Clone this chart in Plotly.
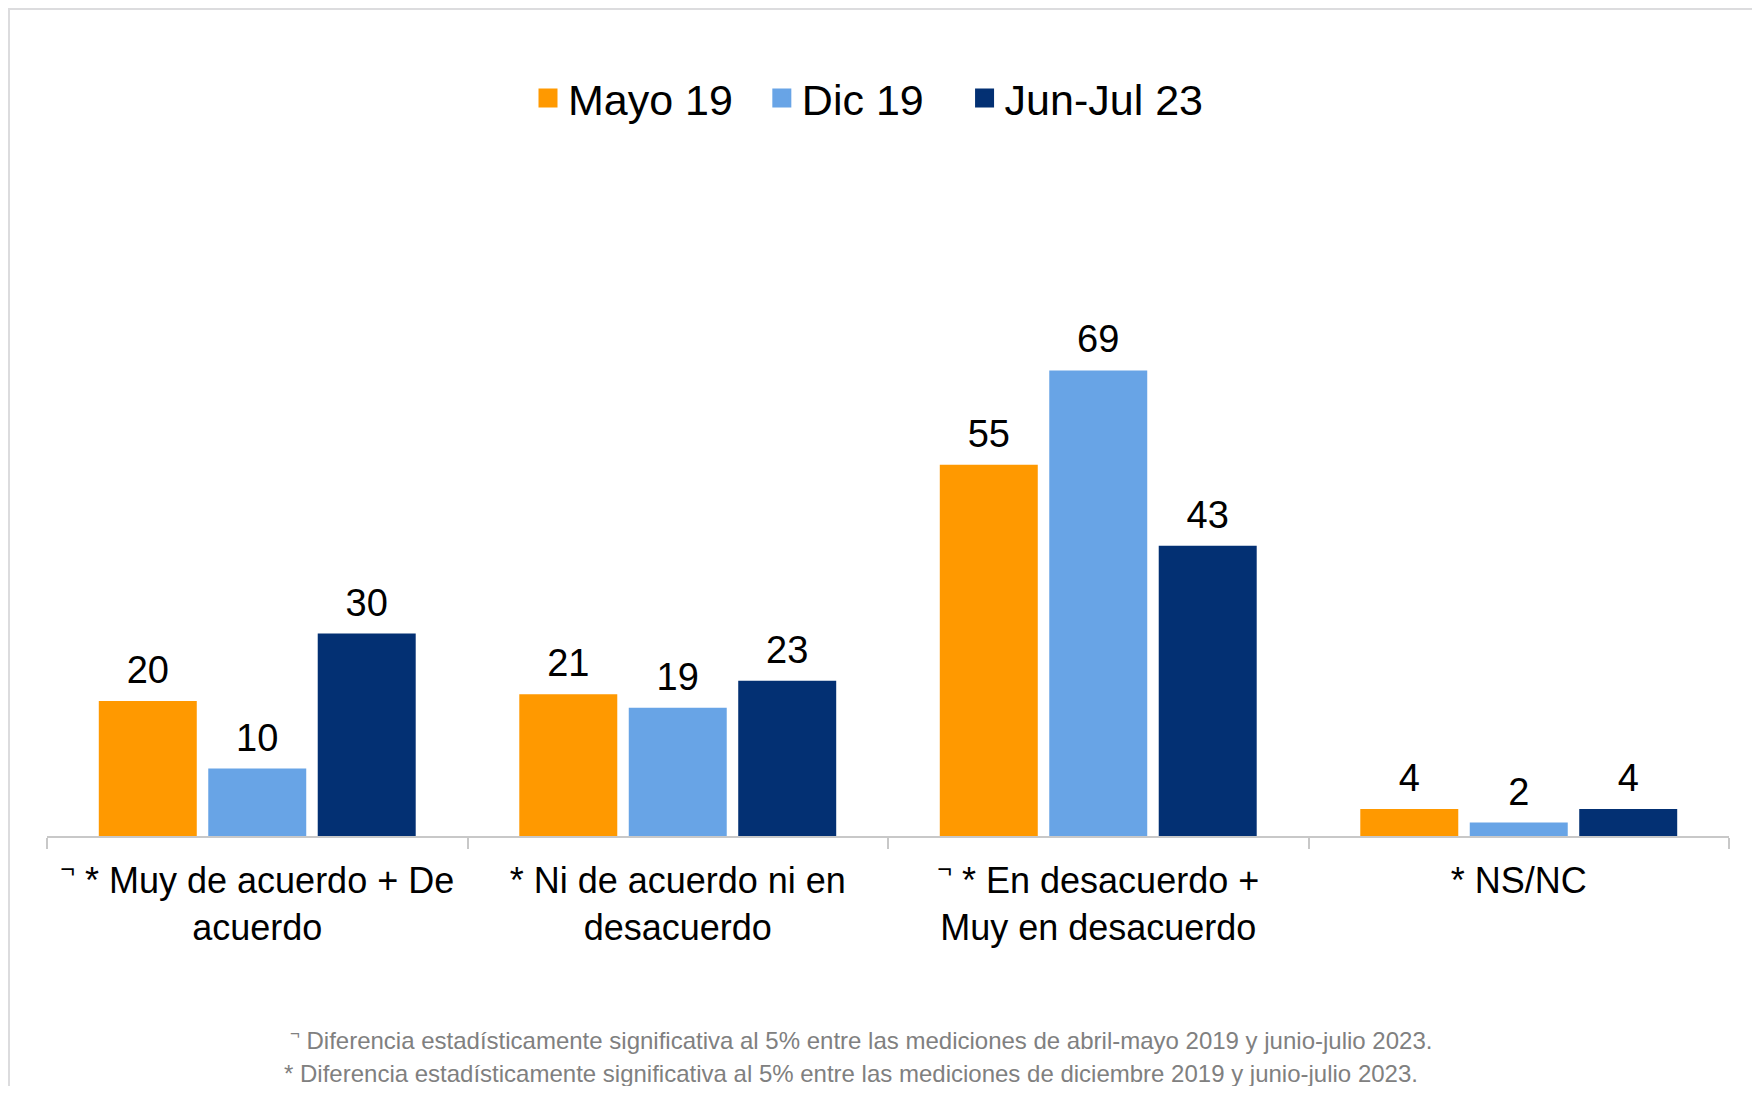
import plotly.graph_objects as go

categories = [
    "<sup>¬</sup> * Muy de acuerdo + De<br>acuerdo",
    "* Ni de acuerdo ni en<br>desacuerdo",
    "<sup>¬</sup> * En desacuerdo +<br>Muy en desacuerdo",
    "* NS/NC",
]
series_names = ["Mayo 19", "Dic 19", "Jun-Jul 23"]
legend_pad = ["\u00a0\u00a0", "\u00a0\u00a0\u00a0", ""]
mayo19 = [20, 21, 55, 4]
dic19 = [10, 19, 69, 2]
junjul23 = [30, 23, 43, 4]
colors = ["#FF9900", "#68A4E6", "#033073"]
footnotes = [
    "<sup>¬</sup> Diferencia estadísticamente significativa al 5% entre las mediciones de abril-mayo 2019 y junio-julio 2023.",
    "* Diferencia estadísticamente significativa al 5% entre las mediciones de diciembre 2019 y junio-julio 2023.",
]

OFF = 8                      # page body margin
W, H = 1760 - 2 * OFF, 1094 - 2 * OFF
# plot area in page pixels
PX_L, PX_R, PX_T, PX_B = 47, 1729, 100, 836
L, R = PX_L - OFF, W - (PX_R - OFF)
T, B = PX_T - OFF, H - (PX_B - OFF)
PX_PER_UNIT = 6.748
YMAX = (PX_B - PX_T) / PX_PER_UNIT
FONT = "Liberation Sans, Arial, sans-serif"

pw = PX_R - PX_L
ph = PX_B - PX_T
def px_x(px):
    return (px - PX_L) / pw
def px_y(py):
    return (PX_B - py) / ph

fig = go.Figure()
all_vals = [mayo19, dic19, junjul23]
for name, vals, col in zip(series_names, all_vals, colors):
    fig.add_trace(go.Bar(x=categories, y=vals, name=name, marker_color=col,
                         marker_line_width=0, showlegend=False, hoverinfo="skip"))
for name, vals, col in zip(series_names, all_vals, colors):
    fig.add_trace(go.Scatter(x=categories, y=vals, mode="markers+text",
                             text=[str(v) for v in vals], textposition="top center",
                             textfont=dict(family=FONT, size=38, color="#000000"),
                             marker=dict(size=12, color="rgba(0,0,0,0)"),
                             cliponaxis=False, showlegend=False, hoverinfo="skip"))
for name, pad, col in zip(series_names, legend_pad, colors):
    fig.add_trace(go.Scatter(x=[None], y=[None], mode="markers", name=name + pad,
                             marker=dict(symbol="square", size=16, color=col,
                                         line=dict(color=col, width=3)),
                             xaxis="x2", yaxis="y2"))

# panel border (top and left edges)
fig.add_shape(type="line", xref="paper", yref="paper",
              x0=px_x(OFF), x1=px_x(1760), y0=px_y(OFF + 1), y1=px_y(OFF + 1),
              line=dict(color="#DCDCDE", width=2), layer="below")
fig.add_shape(type="line", xref="paper", yref="paper",
              x0=px_x(OFF + 1), x1=px_x(OFF + 1), y0=px_y(OFF), y1=px_y(1094),
              line=dict(color="#DCDCDE", width=2), layer="below")

for txt, cx, py in zip(footnotes, [861, 851], [1039, 1073]):
    fig.add_annotation(text=txt, xref="paper", yref="paper",
                       x=px_x(cx), y=px_y(py), xanchor="center", yanchor="middle",
                       showarrow=False, font=dict(family=FONT, size=24, color="#808080"))

fig.update_layout(
    width=W, height=H,
    margin=dict(l=L, r=R, t=T, b=B, pad=0, autoexpand=False),
    paper_bgcolor="#FFFFFF", plot_bgcolor="rgba(0,0,0,0)",
    barmode="group", bargap=0.219, bargroupgap=0.105,
    scattermode="group",
    font=dict(family=FONT, color="#000000"),
    legend=dict(orientation="h", x=px_x(528), xanchor="left", y=px_y(98), yanchor="middle",
                font=dict(family=FONT, size=43, color="#000000"), bgcolor="rgba(0,0,0,0)"),
    xaxis=dict(type="category", showgrid=False, zeroline=False, automargin=False,
               showline=True, linecolor="#C8C8C8", linewidth=2, tickangle=0,
               ticks="outside", tickson="boundaries", ticklen=11, tickwidth=2, tickcolor="#C8C8C8",
               ticklabelstandoff=12,
               tickfont=dict(family=FONT, size=36, color="#000000")),
    yaxis=dict(range=[0, YMAX], visible=False, showgrid=False, zeroline=False),
    xaxis2=dict(overlaying="x", visible=False),
    yaxis2=dict(overlaying="y", visible=False),
)

fig.write_html("out.html")
